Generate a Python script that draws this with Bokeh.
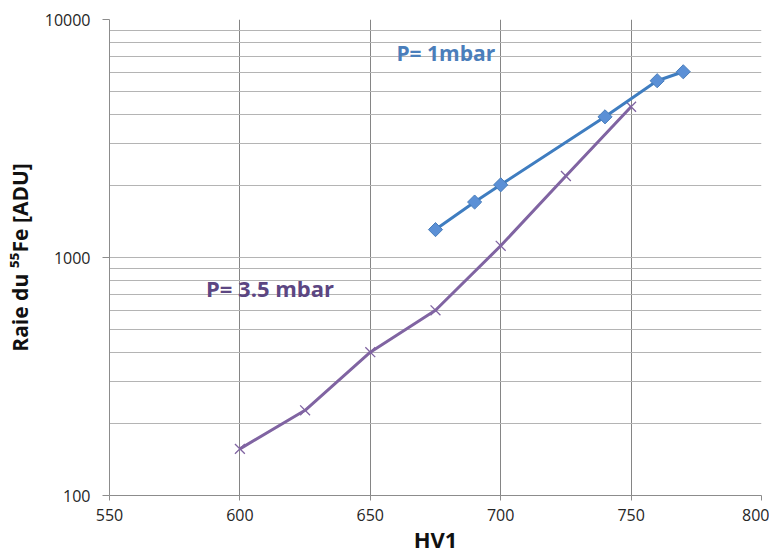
import math
from bokeh.plotting import figure
from bokeh.models import FixedTicker, Label, Range1d, NumeralTickFormatter
from bokeh.embed import file_html
from bokeh.resources import INLINE

# Data
hv_1mbar = [675, 690, 700, 740, 760, 770]
raie_1mbar = [1310, 1710, 2020, 3900, 5530, 6030]

hv_35mbar = [600, 625, 650, 675, 700, 725, 750]
raie_35mbar = [157, 228, 400, 600, 1120, 2200, 4300]

x_ticks = [550, 600, 650, 700, 750, 800]
y_ticks = [100, 1000, 10000]
y_minor = [m * d for d in (100, 1000) for m in range(2, 10)]

FONT = "Open Sans"

p = figure(frame_width=652, frame_height=476, output_backend="svg", toolbar_location=None,
           y_axis_type="log", x_range=Range1d(550, 800), y_range=Range1d(100, 10000),
           min_border_left=109, min_border_right=8, min_border_top=19, min_border_bottom=50)
p.outline_line_color = None
p.background_fill_color = "white"

p.xaxis.ticker = FixedTicker(ticks=x_ticks)
p.yaxis.ticker = FixedTicker(ticks=y_ticks, minor_ticks=y_minor)
p.yaxis.formatter = NumeralTickFormatter(format="0")

p.xgrid.grid_line_color = "#858585"
p.xgrid.grid_line_width = 1
p.ygrid.grid_line_color = "#b4b4b4"
p.ygrid.minor_grid_line_color = "#b4b4b4"

for ax in (p.xaxis, p.yaxis):
    ax.axis_line_color = "#8c8c8c"
    ax.major_tick_line_color = "#8c8c8c"
    ax.minor_tick_line_color = None
    ax.major_tick_in = 0
    ax.major_label_text_font = FONT
    ax.major_label_text_font_size = "16px"
    ax.major_label_text_color = "#262626"
    ax.axis_label_text_font = FONT
    ax.axis_label_text_font_style = "bold"
    ax.axis_label_text_font_size = "21px"
    ax.axis_label_text_color = "#111111"
p.xaxis.major_tick_out = 5
p.yaxis.major_tick_out = 7
p.xaxis.major_label_standoff = 8
p.yaxis.major_label_standoff = 12
p.xaxis.axis_label = "HV1"
p.xaxis.axis_label_text_font_size = "22px"
p.yaxis.axis_label = "Raie du \u2075\u2075Fe [ADU]"
p.xaxis.axis_label_standoff = 0
p.yaxis.axis_label_standoff = 8

blue = "#3f7dc0"
purple = "#8064a2"

p.line(hv_35mbar, raie_35mbar, line_color=purple, line_width=3)
p.scatter(hv_35mbar, raie_35mbar, marker="x", size=14, line_color=purple, line_width=1.3)

p.line(hv_1mbar, raie_1mbar, line_color=blue, line_width=3)
p.scatter(hv_1mbar, raie_1mbar, marker="square", angle=math.pi / 4, size=10,
          fill_color="#5b90d6", line_color="#4a7ebb", line_width=1)

p.add_layout(Label(x=660, y=7260, text="P= 1mbar", text_font=FONT, text_font_style="bold",
                   text_font_size="21px", text_color="#4a7ebb", text_baseline="middle"))
p.add_layout(Label(x=587, y=748, text="P= 3.5 mbar", text_font=FONT, text_font_style="bold",
                   text_font_size="22px", text_color="#5c4682", text_baseline="middle"))

open("out.html", "w").write(file_html(p, INLINE))
